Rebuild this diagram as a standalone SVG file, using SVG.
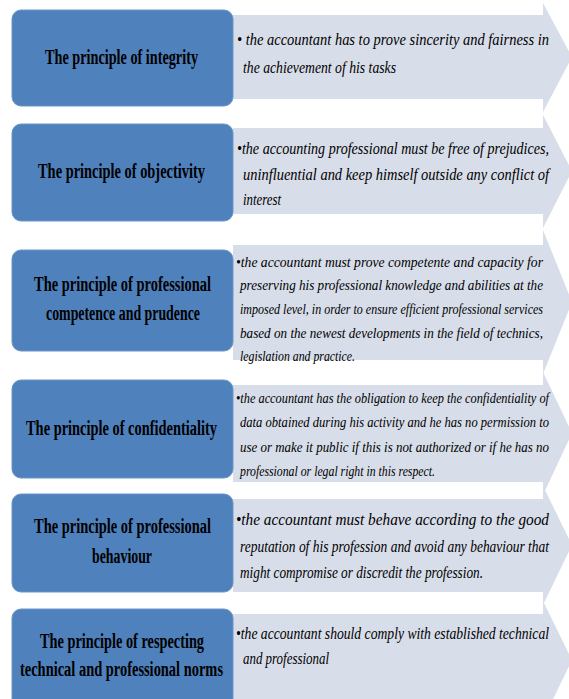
<svg xmlns="http://www.w3.org/2000/svg" width="569" height="699" viewBox="0 0 569 699">
<style>
.box{fill:#4f81bd;stroke:#6b95c8;stroke-width:1}
.arr{fill:#d7dde9}
.t{font-family:"Liberation Serif",serif;font-weight:bold;font-size:20px;fill:#000}
.d{font-family:"Liberation Serif",serif;font-style:italic;font-size:16px;fill:#000}
.s{font-size:15px}
</style>
<rect width="569" height="699" fill="#fff"/>
<g id="connectors">
<polygon class="arr" points="233,15 543,15 543,3 572,57 543,112 543,99 233,99"/>
<polygon class="arr" points="233,128 543,128 543,115 572,171 543,228 543,214 233,214"/>
<polygon class="arr" points="233,245 543,245 543,230 572,302 543,374 543,360 233,360"/>
<polygon class="arr" points="233,385 543,385 543,372 572,433 543,495 543,482 233,482"/>
<polygon class="arr" points="233,499 543,499 543,486 572,545 543,605 543,592 233,592"/>
<polygon class="arr" points="233,614 543,614 543,601 572,660 543,720 543,710 233,710"/>
</g>
<g id="n1">
<rect class="box" x="12" y="10" width="221" height="96" rx="9"/>
<text class="t" x="45" y="64" textLength="153" lengthAdjust="spacingAndGlyphs">The principle of integrity</text>
<text class="d" x="237" y="45" textLength="312" lengthAdjust="spacingAndGlyphs">•  the accountant has to prove sincerity and fairness in</text>
<text class="d" x="243" y="73" textLength="153" lengthAdjust="spacingAndGlyphs">the achievement of his tasks</text>
</g>
<g id="n2">
<rect class="box" x="12" y="124" width="221" height="97" rx="9"/>
<text class="t" x="38" y="178" textLength="167" lengthAdjust="spacingAndGlyphs">The principle of objectivity</text>
<text class="d" x="237" y="154" textLength="312" lengthAdjust="spacingAndGlyphs">•the accounting professional must be free of prejudices,</text>
<text class="d" x="243" y="180" textLength="306" lengthAdjust="spacingAndGlyphs">uninfluential and keep himself outside any conflict of</text>
<text class="d" x="243" y="205" textLength="38" lengthAdjust="spacingAndGlyphs">interest</text>
</g>
<g id="n3">
<rect class="box" x="12" y="250" width="221" height="101" rx="9"/>
<text class="t" x="34" y="291" textLength="177" lengthAdjust="spacingAndGlyphs">The principle of professional</text>
<text class="t" x="46" y="320" textLength="154" lengthAdjust="spacingAndGlyphs">competence and prudence</text>
<text class="d s" x="236" y="267" textLength="307" lengthAdjust="spacingAndGlyphs">•the accountant must prove competente and capacity for</text>
<text class="d s" x="240" y="290" textLength="303" lengthAdjust="spacingAndGlyphs">preserving his professional knowledge and abilities at the</text>
<text class="d s" x="240" y="314" textLength="303" lengthAdjust="spacingAndGlyphs">imposed level, in order to ensure efficient professional services</text>
<text class="d s" x="240" y="338" textLength="303" lengthAdjust="spacingAndGlyphs">based on the newest developments in the field of technics,</text>
<text class="d s" x="240" y="361" textLength="115" lengthAdjust="spacingAndGlyphs">legislation and practice.</text>
</g>
<g id="n4">
<rect class="box" x="12" y="380" width="221" height="98" rx="9"/>
<text class="t" x="26" y="435" textLength="191" lengthAdjust="spacingAndGlyphs">The principle of confidentiality</text>
<text class="d s" x="236" y="403" textLength="313" lengthAdjust="spacingAndGlyphs">•the accountant has the obligation to keep the confidentiality of</text>
<text class="d s" x="240" y="427" textLength="309" lengthAdjust="spacingAndGlyphs">data obtained during his activity and he has no permission to</text>
<text class="d s" x="240" y="452" textLength="309" lengthAdjust="spacingAndGlyphs">use or make it public if this is not authorized or if he has no</text>
<text class="d s" x="240" y="476" textLength="195" lengthAdjust="spacingAndGlyphs">professional or legal right in this respect.</text>
</g>
<g id="n5">
<rect class="box" x="12" y="494" width="221" height="98" rx="9"/>
<text class="t" x="34" y="533" textLength="177" lengthAdjust="spacingAndGlyphs">The principle of professional</text>
<text class="t" x="92" y="563" textLength="60" lengthAdjust="spacingAndGlyphs">behaviour</text>
<text class="d" x="236" y="525" textLength="313" lengthAdjust="spacingAndGlyphs">•the accountant must behave according to the good</text>
<text class="d" x="240" y="552" textLength="309" lengthAdjust="spacingAndGlyphs">reputation of his profession and avoid any behaviour that</text>
<text class="d" x="240" y="578" textLength="243" lengthAdjust="spacingAndGlyphs">might compromise or discredit the profession.</text>
</g>
<g id="n6">
<rect class="box" x="12" y="609" width="221" height="110" rx="9"/>
<text class="t" x="40" y="648" textLength="164" lengthAdjust="spacingAndGlyphs">The principle of respecting</text>
<text class="t" x="20" y="676" textLength="203" lengthAdjust="spacingAndGlyphs">technical and professional norms</text>
<text class="d" x="236" y="639" textLength="313" lengthAdjust="spacingAndGlyphs">•the accountant should comply with established technical</text>
<text class="d" x="243" y="664" textLength="86" lengthAdjust="spacingAndGlyphs">and professional</text>
</g>
</svg>
